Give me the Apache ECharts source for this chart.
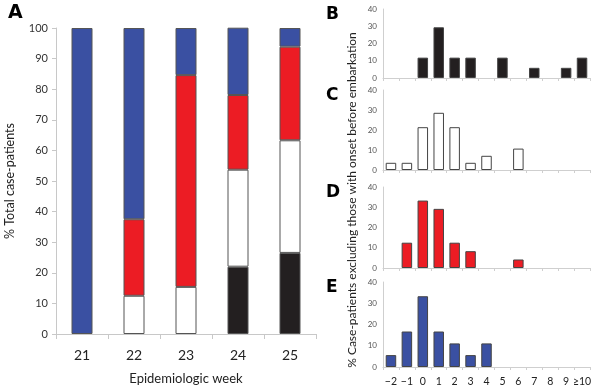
<!DOCTYPE html>
<html><head><meta charset="utf-8">
<script src="https://cdn.jsdelivr.net/npm/echarts@6/dist/echarts.min.js"></script>
<style>html,body{margin:0;padding:0;background:#fff}#c{width:600px;height:390px}</style>
</head><body><div id="c"></div>
<script>
const weeks = ['21','22','23','24','25'];
const pctBlack = [0, 0, 0, 22.0, 26.5];
const pctWhite = [0, 12.5, 15.4, 31.7, 36.8];
const pctRed   = [0, 25.0, 69.2, 24.4, 30.6];
const pctBlue  = [100, 62.5, 15.4, 22.0, 6.1];
const mainTicks = [0,10,20,30,40,50,60,70,80,90,100];

const days = ['\u22122','\u22121','0','1','2','3','4','5','6','7','8','9','\u226510'];
const panelB = [0, 0, 11.8, 29.4, 11.8, 11.8, 0, 11.8, 0, 5.9, 0, 5.9, 11.8];
const panelC = [3.6, 3.6, 21.4, 28.6, 21.4, 3.6, 7.1, 0, 10.7, 0, 0, 0, 0];
const panelD = [0, 12.5, 33.3, 29.2, 12.5, 8.3, 0, 0, 4.2, 0, 0, 0, 0];
const panelE = [5.6, 16.7, 33.3, 16.7, 11.1, 5.6, 11.1, 0, 0, 0, 0, 0, 0];

const BLACK = '#231f20', RED = '#ec1c24', BLUE = '#3a50a2', WHITE = '#ffffff';
const FONT = 'Lato';

const chart = echarts.init(document.getElementById('c'));
const panels = [
  {data: panelB, color: BLACK, top: 9,   height: 69, letter: 'B'},
  {data: panelC, color: WHITE, top: 90,  height: 80, letter: 'C'},
  {data: panelD, color: RED,   top: 187, height: 81, letter: 'D'},
  {data: panelE, color: BLUE,  top: 282, height: 85, letter: 'E'}
];

const grids = [{left: 56, width: 260, top: 28, height: 308}];
const xAxes = [{
  type: 'category', data: weeks, gridIndex: 0,
  axisLine: {lineStyle: {color: '#c8c8c8'}},
  axisTick: {show: true, alignWithLabel: false, lineStyle: {color: '#c8c8c8'}, length: 5},
  axisLabel: {interval: 0, color: '#222', fontSize: 14, fontFamily: FONT, margin: 14},
  name: 'Epidemiologic week', nameLocation: 'middle', nameGap: 38,
  nameTextStyle: {color: '#222', fontSize: 13, fontFamily: FONT}
}];
const yAxes = [{
  type: 'value', gridIndex: 0, min: 0, max: 100, interval: 10,
  axisLine: {show: true, lineStyle: {color: '#c8c8c8'}},
  axisTick: {show: true, lineStyle: {color: '#c8c8c8'}, length: 4},
  splitLine: {show: false},
  axisLabel: {color: '#333', fontSize: 11, fontFamily: FONT, margin: 8,
    formatter: v => mainTicks.includes(v) ? String(v) : ''},
  name: '% Total case-patients', nameLocation: 'middle', nameGap: 40, nameRotate: 90,
  nameTextStyle: {color: '#222', fontSize: 12.5, fontFamily: FONT}
}];
const series = [];
const stackDefs = [
  {name: 'black', data: pctBlack, color: BLACK},
  {name: 'white', data: pctWhite, color: WHITE},
  {name: 'red', data: pctRed, color: RED},
  {name: 'blue', data: pctBlue, color: BLUE}
];
stackDefs.forEach(s => series.push({
  type: 'bar', name: s.name, stack: 'A', xAxisIndex: 0, yAxisIndex: 0,
  data: s.data.map(v => v === 0 ? null : v), barWidth: 21,
  itemStyle: {color: s.color, borderColor: '#555', borderWidth: 1},
  animation: false
}));

const graphics = [
  {type: 'text', left: 8, top: 4, style: {text: 'A', font: '900 19px "DejaVu Sans"', fill: '#000'}}
];

panels.forEach((p, i) => {
  const gi = i + 1;
  grids.push({left: 383, width: 207, top: p.top, height: p.height});
  xAxes.push({
    type: 'category', data: days, gridIndex: gi,
    axisLine: {lineStyle: {color: '#cfcfcf'}},
    axisTick: {show: true, lineStyle: {color: '#cfcfcf'}, length: 3},
    axisLabel: {show: gi === 4, interval: 0, color: '#222', fontSize: 10.5, fontFamily: FONT, margin: 9}
  });
  yAxes.push({
    type: 'value', gridIndex: gi, min: 0, max: 40, interval: 10,
    axisLine: {show: true, lineStyle: {color: '#cfcfcf'}},
    axisTick: {show: false},
    splitLine: {show: false},
    axisLabel: {color: '#555', fontSize: 8, fontFamily: FONT, margin: 6}
  });
  series.push({
    type: 'bar', xAxisIndex: gi, yAxisIndex: gi,
    data: p.data.map(v => v === 0 ? null : v), barWidth: 10.5,
    itemStyle: {color: p.color, borderColor: '#444', borderWidth: 1},
    animation: false
  });
  graphics.push({type: 'text', left: 326, top: p.top - 3,
    style: {text: p.letter, font: '900 17px "DejaVu Sans"', fill: '#000'}});
});

graphics.push({
  type: 'text', x: 352, y: 200, rotation: Math.PI / 2,
  style: {text: '% Case-patients excluding those with onset before embarkation',
    font: '12px Lato', fill: '#222', textAlign: 'center', textVerticalAlign: 'middle'}
});

chart.setOption({
  animation: false,
  backgroundColor: '#fff',
  grid: grids, xAxis: xAxes, yAxis: yAxes, series: series, graphic: graphics
});
</script></body></html>
